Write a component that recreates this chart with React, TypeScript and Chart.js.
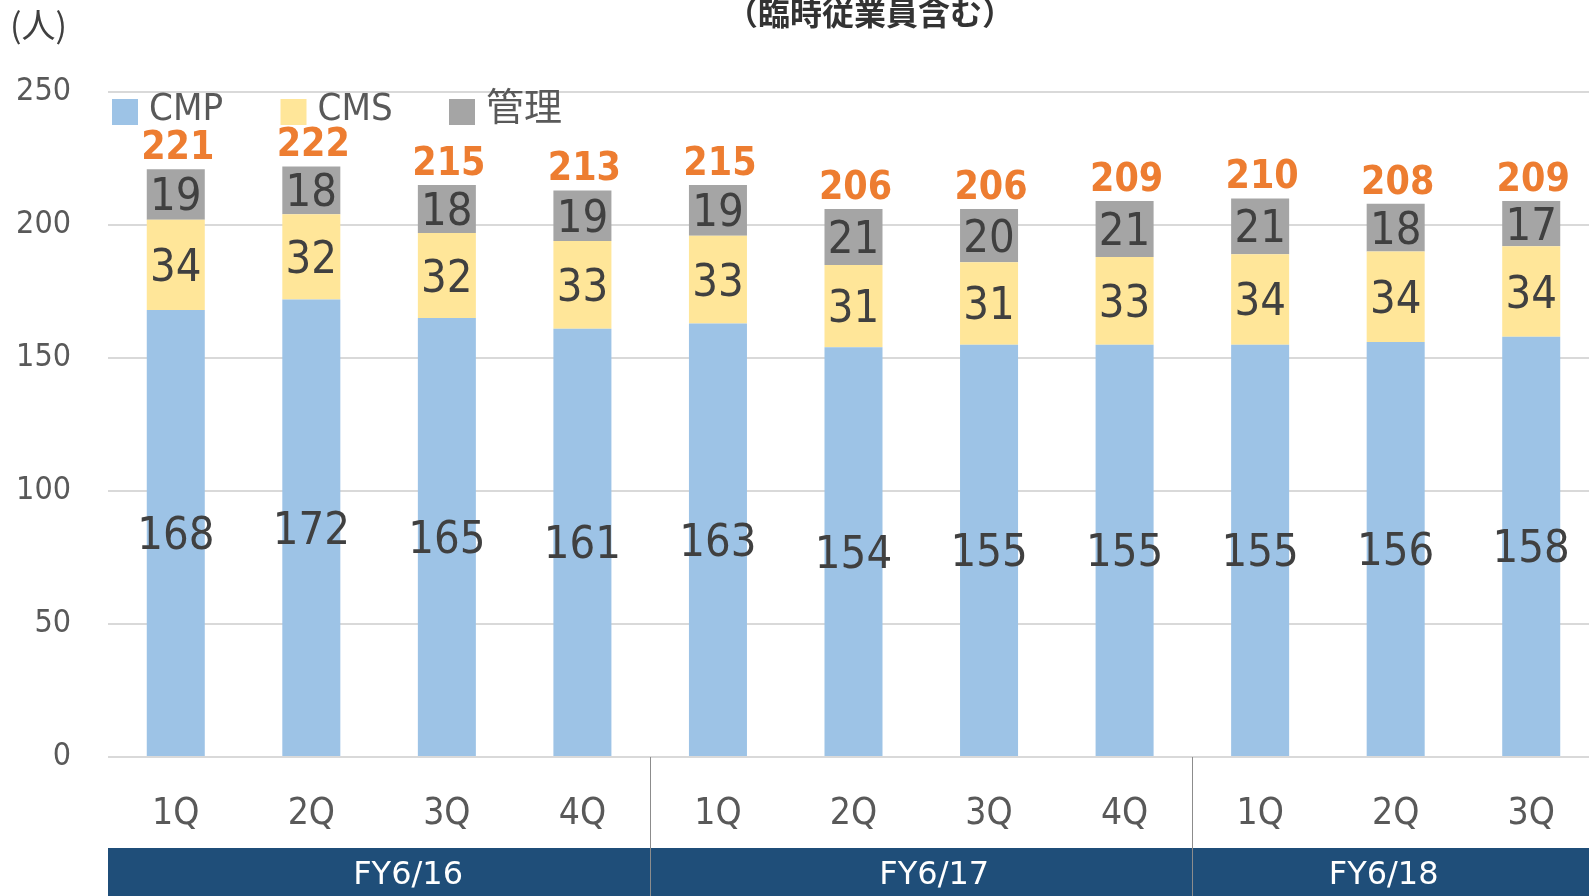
import React, { useEffect, useRef } from "react";
import { Chart, registerables } from "chart.js";

Chart.register(...registerables);

// ---- data ----
const categories = ["1Q", "2Q", "3Q", "4Q", "1Q", "2Q", "3Q", "4Q", "1Q", "2Q", "3Q"];
const cmp = [168, 172, 165, 161, 163, 154, 155, 155, 155, 156, 158];
const cms = [34, 32, 32, 33, 33, 31, 31, 33, 34, 34, 34];
const kanri = [19, 18, 18, 19, 19, 21, 20, 21, 21, 18, 17];
const totals = [221, 222, 215, 213, 215, 206, 206, 209, 210, 208, 209];
const seriesNames = ["CMP", "CMS", "管理"];
const fiscalYears = ["FY6/16", "FY6/17", "FY6/18"];
const fiscalYearFirstIndex = [0, 4, 8];
const fiscalYearLastIndex = [3, 7, 10];
const titleText = "（臨時従業員含む）";
const unitText = "(人)";

// ---- styles ----
const LAT = "'DejaVu Sans Condensed', 'DejaVu Sans', 'Noto Sans CJK JP', sans-serif";
const LAT_N = "'DejaVu Sans', 'Noto Sans CJK JP', sans-serif";
const CJK = "'Noto Sans CJK JP', sans-serif";
const colors = ["#9DC3E6", "#FFE699", "#A5A5A5"];
const FY_LABEL_SHIFT = [29, 13, -12];

const overlay = {
  id: "overlay",
  afterDatasetsDraw(chart: any) {
    const ctx = chart.ctx as CanvasRenderingContext2D;
    ctx.save();
    // segment labels
    ctx.fillStyle = "#404040";
    ctx.font = `45px ${LAT}`;
    ctx.textAlign = "center";
    ctx.textBaseline = "alphabetic";
    chart.data.datasets.forEach((ds: any, di: number) => {
      const meta = chart.getDatasetMeta(di);
      meta.data.forEach((bar: any, i: number) => {
        const c = (bar.y + bar.base) / 2;
        ctx.fillText(String(ds.data[i]), bar.x, c + 16);
      });
    });
    // totals
    const topMeta = chart.getDatasetMeta(chart.data.datasets.length - 1);
    ctx.fillStyle = "#ED7D31";
    ctx.font = `bold 39px ${LAT}`;
    topMeta.data.forEach((bar: any, i: number) => {
      ctx.fillText(String(totals[i]), bar.x + 2, bar.y - 10);
    });
    ctx.restore();
  },
  afterDraw(chart: any) {
    const ctx = chart.ctx as CanvasRenderingContext2D;
    const area = chart.chartArea;
    const xs = chart.scales.x;
    const W = chart.width;
    const H = chart.height;
    ctx.save();
    // title
    ctx.fillStyle = "#333333";
    ctx.font = `bold 32px ${CJK}`;
    ctx.textAlign = "center";
    ctx.textBaseline = "alphabetic";
    ctx.fillText(titleText, 870, 25);
    // unit
    ctx.fillStyle = "#404040";
    ctx.font = `34px ${CJK}`;
    ctx.textAlign = "left";
    ctx.fillText(unitText, 10, 38);
    // legend
    let lx = 112;
    seriesNames.forEach((name, i) => {
      ctx.fillStyle = colors[i];
      ctx.fillRect(lx, 99, 26, 26);
      ctx.fillStyle = "#595959";
      ctx.font = `38px ${LAT}`;
      ctx.textAlign = "left";
      ctx.fillText(name, lx + 37, 120);
      lx += 168.5;
    });
    // band
    const bandTop = 848;
    ctx.fillStyle = "#1F4E79";
    ctx.fillRect(area.left, bandTop, W - area.left, H - bandTop);
    // FY labels
    ctx.fillStyle = "#FFFFFF";
    ctx.font = `32px ${LAT_N}`;
    ctx.textAlign = "center";
    fiscalYears.forEach((fy, g) => {
      const cx = (xs.getPixelForValue(fiscalYearFirstIndex[g]) + xs.getPixelForValue(fiscalYearLastIndex[g])) / 2 + FY_LABEL_SHIFT[g];
      ctx.fillText(fy, cx, 884);
    });
    // separators
    ctx.strokeStyle = "#8C8C8C";
    ctx.lineWidth = 1;
    for (let g = 1; g < fiscalYears.length; g++) {
      const x = Math.round((xs.getPixelForValue(fiscalYearLastIndex[g - 1]) + xs.getPixelForValue(fiscalYearFirstIndex[g])) / 2) + 0.5;
      ctx.beginPath();
      ctx.moveTo(x, area.bottom);
      ctx.lineTo(x, H);
      ctx.stroke();
    }
    ctx.restore();
  },
};

export default function App() {
  const ref = useRef<HTMLCanvasElement>(null);
  useEffect(() => {
    const canvas = ref.current!;
    const chart = new Chart(canvas, {
      type: "bar",
      data: {
        labels: categories,
        datasets: [
          { label: seriesNames[0], data: cmp, backgroundColor: colors[0] },
          { label: seriesNames[1], data: cms, backgroundColor: colors[1] },
          { label: seriesNames[2], data: kanri, backgroundColor: colors[2] },
        ],
      },
      options: {
        responsive: false,
        animation: false,
        layout: { padding: { top: 92, left: 0, right: 1, bottom: 0 } },
        datasets: { bar: { barPercentage: 0.428, categoryPercentage: 1 } },
        plugins: { legend: { display: false }, tooltip: { enabled: false }, title: { display: false } },
        scales: {
          x: {
            stacked: true,
            grid: { display: false, drawTicks: false },
            border: { display: false },
            ticks: { font: { family: LAT, size: 37 }, color: "#595959", padding: 35, autoSkip: false, maxRotation: 0 },
            afterFit: (s: any) => { s.height = 139; },
          },
          y: {
            stacked: true,
            min: 0,
            max: 250,
            ticks: { stepSize: 50, font: { family: LAT, size: 32 }, color: "#595959", padding: 37 },
            grid: { color: "#D9D9D9", lineWidth: 2, drawTicks: false },
            border: { display: false },
            afterFit: (s: any) => { s.width = 108; },
          },
        },
      } as any,
      plugins: [overlay],
    });
    return () => chart.destroy();
  }, []);
  return (
    <div style={{ position: "fixed", left: 0, top: 0, width: 1589, height: 896, overflow: "hidden", background: "#fff" }}>
      <canvas ref={ref} width={1600} height={896} style={{ display: "block", width: 1600, height: 896 }} />
    </div>
  );
}
